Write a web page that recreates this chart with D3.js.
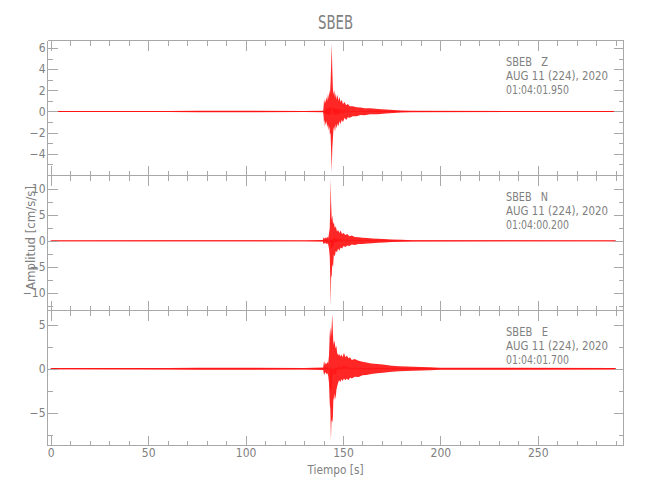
<!DOCTYPE html>
<html><head><meta charset="utf-8">
<script src="https://cdn.jsdelivr.net/npm/d3@7"></script>
<style>
body{margin:0;background:#fff;}
text{font-family:"DejaVu Sans Condensed","Liberation Sans",sans-serif;fill:#808080;}
.axis path,.axis line{stroke:#a8a8a8;stroke-width:1;shape-rendering:crispEdges;}
.axis text{font-size:12px;fill:#808080;font-family:"DejaVu Sans Condensed","Liberation Sans",sans-serif;}
</style></head><body>
<svg id="c" width="650" height="500"></svg>
<script>
// ---- data ----
const title = "SBEB";
const xLabel = "Tiempo [s]";
const yLabel = "Amplitud [cm/s/s]";
const xDomain = [-1.7, 294];
const xMajor = [0, 50, 100, 150, 200, 250];
const xMinor = [10,20,30,40,60,70,80,90,110,120,130,140,160,170,180,190,210,220,230,240,260,270,280,290];

const components = ["Z", "N", "E"];
const infoStation = ["SBEB   Z", "SBEB   N", "SBEB   E"];
const infoDate = ["AUG 11 (224), 2020", "AUG 11 (224), 2020", "AUG 11 (224), 2020"];
const infoTime = ["01:04:01.950", "01:04:00.200", "01:04:01.700"];

const yDomZ = [-6.04, 6.7];
const yDomN = [-13.4, 12.56];
const yDomE = [-8.7, 6.6];
const yMajorZ = [-4, -2, 0, 2, 4, 6];
const yMinorZ = [-5, -3, -1, 1, 3, 5];
const yMajorN = [-10, -5, 0, 5, 10];
const yMinorN = [-12.5, -7.5, -2.5, 2.5, 7.5];
const yMajorE = [-5, 0, 5];
const yMinorE = [-7.5, -2.5, 2.5];

// envelope of each trace: time (s), maximum, minimum
const tZ  = [0, 60, 75, 130, 139.8, 140.1, 140.3, 140.5, 140.8, 141.1, 141.5, 141.9, 142.3, 142.7, 143.0, 143.3, 143.6, 143.9, 144.2, 144.5, 144.8, 145.1, 145.5, 145.9, 146.3, 146.8, 147.2, 147.7, 148.2, 148.7, 149.3, 150.0, 150.8, 151.6, 152.5, 153.5, 155, 157, 159, 161, 164, 168, 172, 176, 180, 185, 290];
const upZ = [0.04, 0.05, 0.08, 0.05, 0.08, 0.6, 1.3, 0.7, 1.1, 0.8, 1.4, 1.0, 1.7, 1.2, 2.0, 1.6, 2.6, 4.3, 6.4, 4.0, 2.2, 1.6, 2.0, 1.3, 1.7, 1.1, 1.6, 1.0, 1.4, 0.9, 1.1, 0.7, 0.9, 0.6, 0.7, 0.5, 0.5, 0.4, 0.38, 0.3, 0.3, 0.24, 0.2, 0.15, 0.1, 0.07, 0.04];
const loZ = [-0.04, -0.05, -0.08, -0.05, -0.08, -0.6, -1.5, -0.8, -1.0, -1.3, -0.9, -1.5, -1.2, -1.8, -1.4, -2.2, -2.0, -3.7, -5.7, -3.5, -2.6, -1.7, -1.4, -1.9, -1.2, -1.6, -1.1, -1.4, -0.9, -1.2, -0.8, -1.0, -0.6, -0.8, -0.55, -0.6, -0.45, -0.45, -0.32, -0.35, -0.26, -0.25, -0.18, -0.15, -0.1, -0.07, -0.04];

const tN  = [0, 60, 130, 139.6, 140.0, 140.4, 140.9, 141.4, 141.9, 142.4, 142.8, 143.2, 143.5, 143.7, 143.9, 144.2, 144.5, 144.9, 145.3, 145.8, 146.3, 146.9, 147.5, 148.1, 148.8, 149.5, 150.3, 151.2, 152.2, 153.3, 154.5, 156, 158, 160, 162.5, 165, 168, 171, 175, 180, 186, 290];
const upN = [0.08, 0.1, 0.08, 0.15, 0.7, 0.4, 0.65, 0.45, 0.8, 0.5, 1.4, 2.5, 7.5, 11.9, 7.4, 4.0, 4.9, 3.2, 3.6, 2.4, 2.8, 1.8, 2.1, 1.5, 2.0, 1.3, 1.5, 1.1, 1.3, 0.9, 1.0, 0.75, 0.7, 0.6, 0.55, 0.45, 0.4, 0.33, 0.25, 0.2, 0.12, 0.08];
const loN = [-0.08, -0.1, -0.08, -0.15, -0.6, -0.5, -0.35, -0.6, -0.45, -0.7, -1.5, -3.0, -8.0, -12.6, -7.0, -6.7, -4.5, -5.0, -2.6, -3.0, -1.9, -2.2, -1.5, -1.9, -1.3, -1.5, -1.0, -1.2, -0.9, -1.0, -0.7, -0.8, -0.6, -0.6, -0.5, -0.45, -0.38, -0.33, -0.25, -0.2, -0.12, -0.08];

const tE  = [0, 60, 75, 130, 139.8, 140.3, 140.7, 141.1, 141.5, 142.0, 142.4, 142.8, 143.2, 143.5, 143.8, 144.1, 144.5, 144.8, 145.1, 145.4, 145.8, 146.2, 146.6, 147.0, 147.5, 148.0, 148.6, 149.2, 149.8, 150.5, 151.2, 152.0, 152.8, 153.6, 154.5, 156, 158, 160, 162, 164.5, 167.5, 170.5, 175, 179, 186, 194.5, 200, 290];
const upE = [0.07, 0.09, 0.12, 0.09, 0.15, 0.9, 0.4, 0.7, 0.5, 0.8, 0.6, 1.5, 4.0, 4.7, 3.5, 4.5, 6.2, 4.2, 2.6, 3.2, 2.9, 2.3, 2.6, 1.8, 1.5, 1.7, 1.4, 1.6, 1.3, 1.8, 1.3, 1.5, 1.2, 1.3, 1.0, 1.1, 0.9, 0.8, 0.7, 0.6, 0.55, 0.48, 0.35, 0.28, 0.22, 0.17, 0.12, 0.08];
const loE = [-0.07, -0.09, -0.12, -0.09, -0.15, -0.7, -0.5, -0.4, -0.6, -0.5, -0.8, -1.6, -4.0, -4.6, -8.1, -5.8, -6.1, -5.5, -3.2, -3.6, -2.8, -3.5, -2.4, -2.0, -1.6, -1.3, -1.5, -1.2, -1.4, -1.1, -1.3, -1.1, -1.3, -1.0, -1.1, -0.9, -0.95, -0.75, -0.7, -0.6, -0.5, -0.45, -0.35, -0.28, -0.22, -0.17, -0.12, -0.08];

// ---- drawing ----
const svg = d3.select("#c");
const L = 47.5, R = 623.5;
const panelTops = [40, 175, 310];
const panelH = 135;
const yDoms = [yDomZ, yDomN, yDomE];
const yMaj = [yMajorZ, yMajorN, yMajorE];
const yMin = [yMinorZ, yMinorN, yMinorE];
const traces = [[tZ, upZ, loZ], [tN, upN, loN], [tE, upE, loE]];

const x = d3.scaleLinear().domain(xDomain).range([L, R]);

components.forEach((c, i) => {
  const top = panelTops[i] + 0.5, bot = panelTops[i] + panelH + 0.5;
  const y = d3.scaleLinear().domain(yDoms[i]).range([bot, top]);
  const [tt, up, lo] = traces[i];
  const rows = tt.map((t, k) => ({t, up: up[k], lo: lo[k]}));

  const g = svg.append("g");
  g.append("path").datum(rows)
    .attr("d", d3.area().x(d => x(d.t)).y0(d => y(d.lo)).y1(d => y(d.up)))
    .attr("fill", "#ff0000").attr("fill-opacity", 0.85).attr("stroke", "none");
  g.append("path").datum(rows)
    .attr("d", d3.line().x(d => x(d.t)).y(d => y((d.up + d.lo) / 2)))
    .attr("fill", "none").attr("stroke", "#ff1010").attr("stroke-width", 0.8);

  const la = svg.append("g").attr("class", "axis").attr("transform", `translate(${L},0)`)
    .call(d3.axisLeft(y).tickValues(yMaj[i]).tickSize(-10).tickPadding(2).tickFormat(d3.format("d")));
  la.select(".domain").attr("d", `M0,${top}V${bot}`);
  svg.append("g").attr("class", "axis").attr("transform", `translate(${L},0)`)
    .call(d3.axisLeft(y).tickValues(yMin[i]).tickSize(-5).tickFormat(""))
    .select(".domain").remove();
  const ra = svg.append("g").attr("class", "axis").attr("transform", `translate(${R},0)`)
    .call(d3.axisRight(y).tickValues(yMaj[i]).tickSize(-10).tickFormat(""));
  ra.select(".domain").attr("d", `M0,${top}V${bot}`);
  svg.append("g").attr("class", "axis").attr("transform", `translate(${R},0)`)
    .call(d3.axisRight(y).tickValues(yMin[i]).tickSize(-5).tickFormat(""))
    .select(".domain").remove();
  const ta = svg.append("g").attr("class", "axis").attr("transform", `translate(0,${top})`)
    .call(d3.axisTop(x).tickValues(xMajor).tickSize(-10).tickFormat(""));
  ta.select(".domain").attr("d", `M${L},0H${R}`);
  svg.append("g").attr("class", "axis").attr("transform", `translate(0,${top})`)
    .call(d3.axisTop(x).tickValues(xMinor).tickSize(-5).tickFormat(""))
    .select(".domain").remove();
  const ba = svg.append("g").attr("class", "axis").attr("transform", `translate(0,${bot})`)
    .call(d3.axisBottom(x).tickValues(xMajor).tickSize(-10).tickPadding(3)
      .tickFormat(i === 2 ? d3.format("d") : ""));
  ba.select(".domain").attr("d", `M${L},0H${R}`);
  svg.append("g").attr("class", "axis").attr("transform", `translate(0,${bot})`)
    .call(d3.axisBottom(x).tickValues(xMinor).tickSize(-5).tickFormat(""))
    .select(".domain").remove();

  const info = svg.append("g").attr("transform", `translate(506,${panelTops[i]})`);
  const lines = [infoStation[i], infoDate[i], infoTime[i]];
  const widths = [42, 102, 63];
  lines.forEach((s, k) => {
    info.append("text").attr("x", 0).attr("y", [26, 39.5, 54][k])
      .attr("font-size", 13).attr("textLength", widths[k]).attr("lengthAdjust", "spacingAndGlyphs")
      .style("white-space", "pre").text(s);
  });
});

svg.append("text").attr("x", (L + R) / 2).attr("y", 29).attr("text-anchor", "middle")
  .attr("font-size", 19).attr("textLength", 35).attr("lengthAdjust", "spacingAndGlyphs").text(title);
svg.append("text").attr("x", (L + R) / 2).attr("y", 474).attr("text-anchor", "middle")
  .attr("font-size", 13).attr("textLength", 56).attr("lengthAdjust", "spacingAndGlyphs").text(xLabel);
svg.append("text").attr("transform", "translate(35,238) rotate(-90)").attr("text-anchor", "middle")
  .attr("font-size", 13).attr("textLength", 104).attr("lengthAdjust", "spacingAndGlyphs").text(yLabel);
</script></body></html>
